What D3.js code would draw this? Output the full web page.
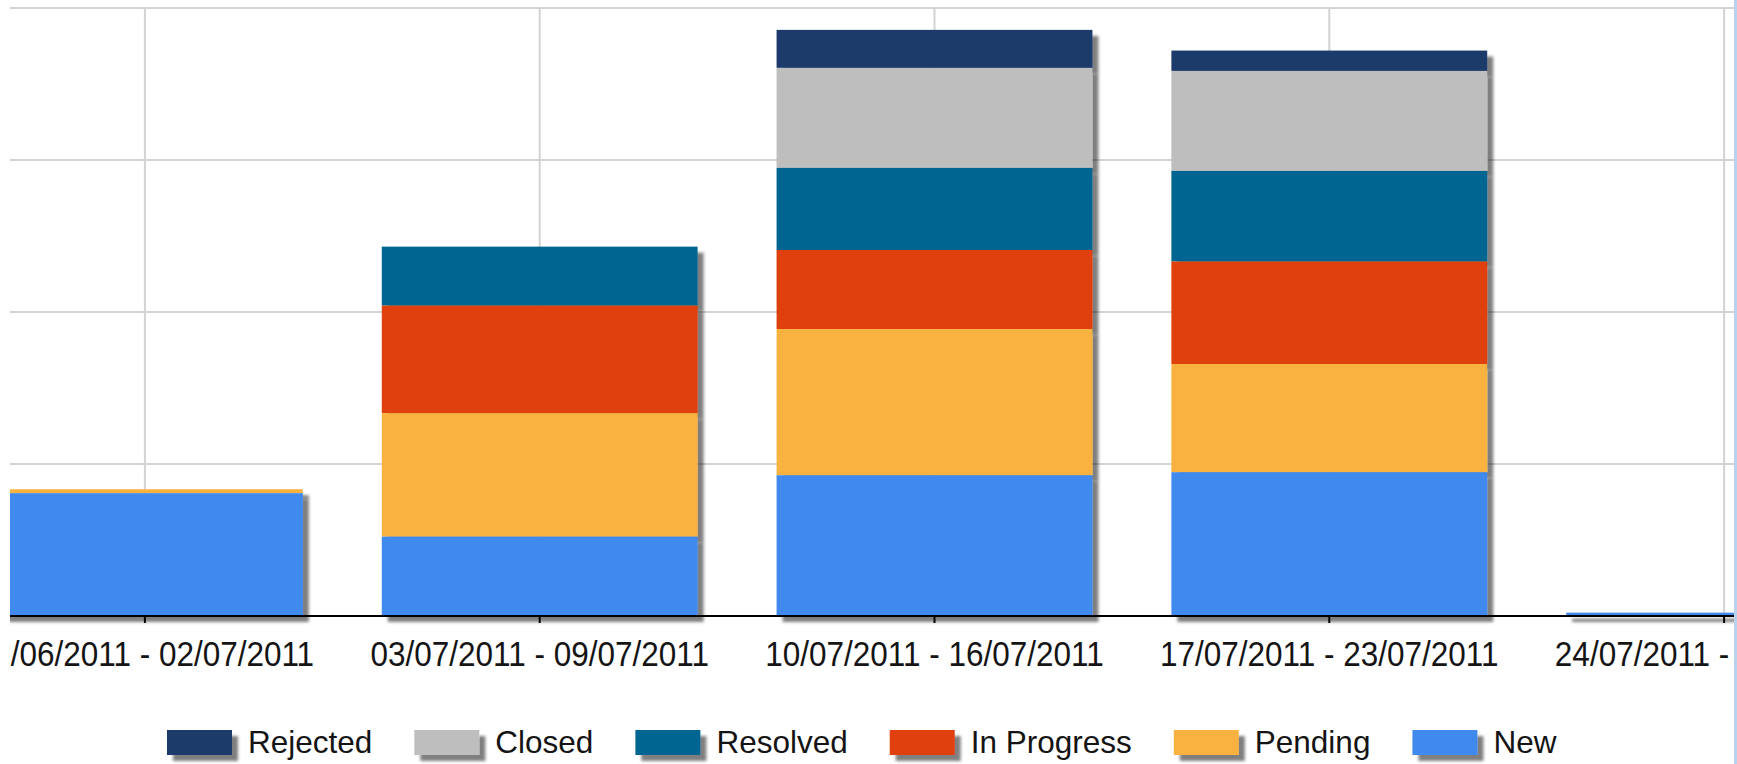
<!DOCTYPE html>
<html>
<head>
<meta charset="utf-8">
<script src="https://cdn.jsdelivr.net/npm/d3@7"></script>
<style>
	body { margin: 0; background: #fff; overflow: hidden; }
	text { font-family: "Liberation Sans", Arial, sans-serif; fill: #141414; }
</style>
</head>
<body>
<script>
// Window size and plot edges
const w = 1737;
const h = 764;
const plotLeft = 10;
const plotRight = 1734;
const plotTop = 8;
const plotBottom = 616;

// Weekly categories (x axis tick labels)
const weeks = [
	"26/06/2011 - 02/07/2011",
	"03/07/2011 - 09/07/2011",
	"10/07/2011 - 16/07/2011",
	"17/07/2011 - 23/07/2011",
	"24/07/2011 - 30/07/2011"
];

// Series, bottom of the stack first
const seriesNames = ["New", "Pending", "In Progress", "Resolved", "Closed", "Rejected"];
const seriesColors = ["#418aee", "#f9b240", "#df400a", "#066591", "#bebebe", "#1b3a6b"];

// Values, one per week
const newVals        = [40.4, 26.1, 46.3, 47.3, 1.1];
const pendingVals    = [1.3, 40.6, 48.1, 35.6, 0];
const inProgressVals = [0, 35.4, 26.0, 33.7, 0];
const resolvedVals   = [0, 19.4, 27.0, 29.8, 0];
const closedVals     = [0, 0, 32.9, 32.9, 0];
const rejectedVals   = [0, 0, 12.5, 6.7, 0];

// Legend order
const legendNames = ["Rejected", "Closed", "Resolved", "In Progress", "Pending", "New"];

// Build rows for d3.stack
const valueLists = [newVals, pendingVals, inProgressVals, resolvedVals, closedVals, rejectedVals];
const rows = weeks.map((wk, i) => {
	const row = { week: wk };
	seriesNames.forEach((s, j) => { row[s] = valueLists[j][i]; });
	return row;
});
const stacked = d3.stack().keys(seriesNames)(rows);
const color = d3.scaleOrdinal().domain(seriesNames).range(seriesColors);

// Scales
const xScale = d3.scaleBand()
	.domain(weeks)
	.range([-52.5, 1921.5])
	.paddingInner(0.2)
	.paddingOuter(0.1);

const yScale = d3.scaleLinear()
	.domain([0, 200])
	.range([plotBottom, plotTop]);

const svg = d3.select("body").append("svg")
	.attr("width", w)
	.attr("height", h);

// Drop shadow used by bars and legend swatches
const defs = svg.append("defs");
defs.append("filter")
	.attr("id", "shadow")
	.attr("filterUnits", "userSpaceOnUse")
	.attr("x", 0).attr("y", 0).attr("width", w).attr("height", h)
	.append("feDropShadow")
	.attr("dx", 6).attr("dy", 6)
	.attr("stdDeviation", 1.4)
	.attr("flood-color", "#000")
	.attr("flood-opacity", 0.5);

// The chart is cut at its left edge, labels included
defs.append("clipPath")
	.attr("id", "plotClip")
	.append("rect")
	.attr("x", plotLeft).attr("y", 0)
	.attr("width", plotRight - plotLeft).attr("height", plotBottom + 14);

defs.append("clipPath")
	.attr("id", "axisClip")
	.append("rect")
	.attr("x", plotLeft).attr("y", -20)
	.attr("width", w - plotLeft).attr("height", 100);

const plot = svg.append("g").attr("clip-path", "url(#plotClip)");

// Grid lines
plot.append("g")
	.selectAll("line")
	.data(yScale.ticks(4))
	.enter()
	.append("line")
	.attr("x1", plotLeft).attr("x2", plotRight)
	.attr("y1", d => yScale(d)).attr("y2", d => yScale(d))
	.attr("stroke", "#d3d3d3")
	.attr("stroke-width", 2);

plot.append("g")
	.selectAll("line")
	.data(weeks)
	.enter()
	.append("line")
	.attr("x1", d => xScale(d) + xScale.bandwidth() / 2)
	.attr("x2", d => xScale(d) + xScale.bandwidth() / 2)
	.attr("y1", plotTop).attr("y2", plotBottom)
	.attr("stroke", "#d3d3d3")
	.attr("stroke-width", 2);

// Stacked bars, top series drawn first so lower ones cover its shadow
plot.selectAll(".series")
	.data(stacked.slice().reverse())
	.enter()
	.append("g")
	.attr("class", "series")
	.attr("fill", d => color(d.key))
	.attr("filter", "url(#shadow)")
	.selectAll("rect")
	.data(d => d.filter(p => p[1] - p[0] > 0))
	.enter()
	.append("rect")
	.attr("x", d => xScale(d.data.week))
	.attr("y", d => yScale(d[1]))
	.attr("width", xScale.bandwidth())
	.attr("height", d => yScale(d[0]) - yScale(d[1]));

// X axis
const xAxis = d3.axisBottom(xScale)
	.tickSize(7)
	.tickSizeOuter(0)
	.tickPadding(18);

const axisG = svg.append("g")
	.attr("transform", "translate(0," + plotBottom + ")")
	.append("g")
	.attr("clip-path", "url(#axisClip)")
	.call(xAxis);

axisG.select(".domain").remove();
axisG.selectAll(".tick line")
	.attr("stroke", "#000")
	.attr("stroke-width", 2);
axisG.selectAll(".tick text")
	.attr("font-family", "Liberation Sans, Arial, sans-serif")
	.attr("font-size", 35)
	.attr("fill", "#141414")
	.attr("transform", "scale(0.9,1)");

axisG.append("line")
	.attr("x1", plotLeft).attr("x2", w)
	.attr("y1", 0).attr("y2", 0)
	.attr("stroke", "#000")
	.attr("stroke-width", 2);

// Legend
const legend = svg.append("g").attr("class", "legend");
let lx = 167;
legendNames.forEach(name => {
	legend.append("rect")
		.attr("x", lx).attr("y", 730)
		.attr("width", 65).attr("height", 25)
		.attr("fill", color(name))
		.attr("filter", "url(#shadow)");
	const t = legend.append("text")
		.attr("x", lx + 81)
		.attr("y", 753)
		.attr("font-size", 31.5)
		.text(name);
	lx = lx + 81 + t.node().getComputedTextLength() + 42;
});

// Light blue window border on the right
svg.append("rect")
	.attr("x", plotRight).attr("y", 0)
	.attr("width", w - plotRight).attr("height", h)
	.attr("fill", "#b9d3ee");
</script>
</body>
</html>
